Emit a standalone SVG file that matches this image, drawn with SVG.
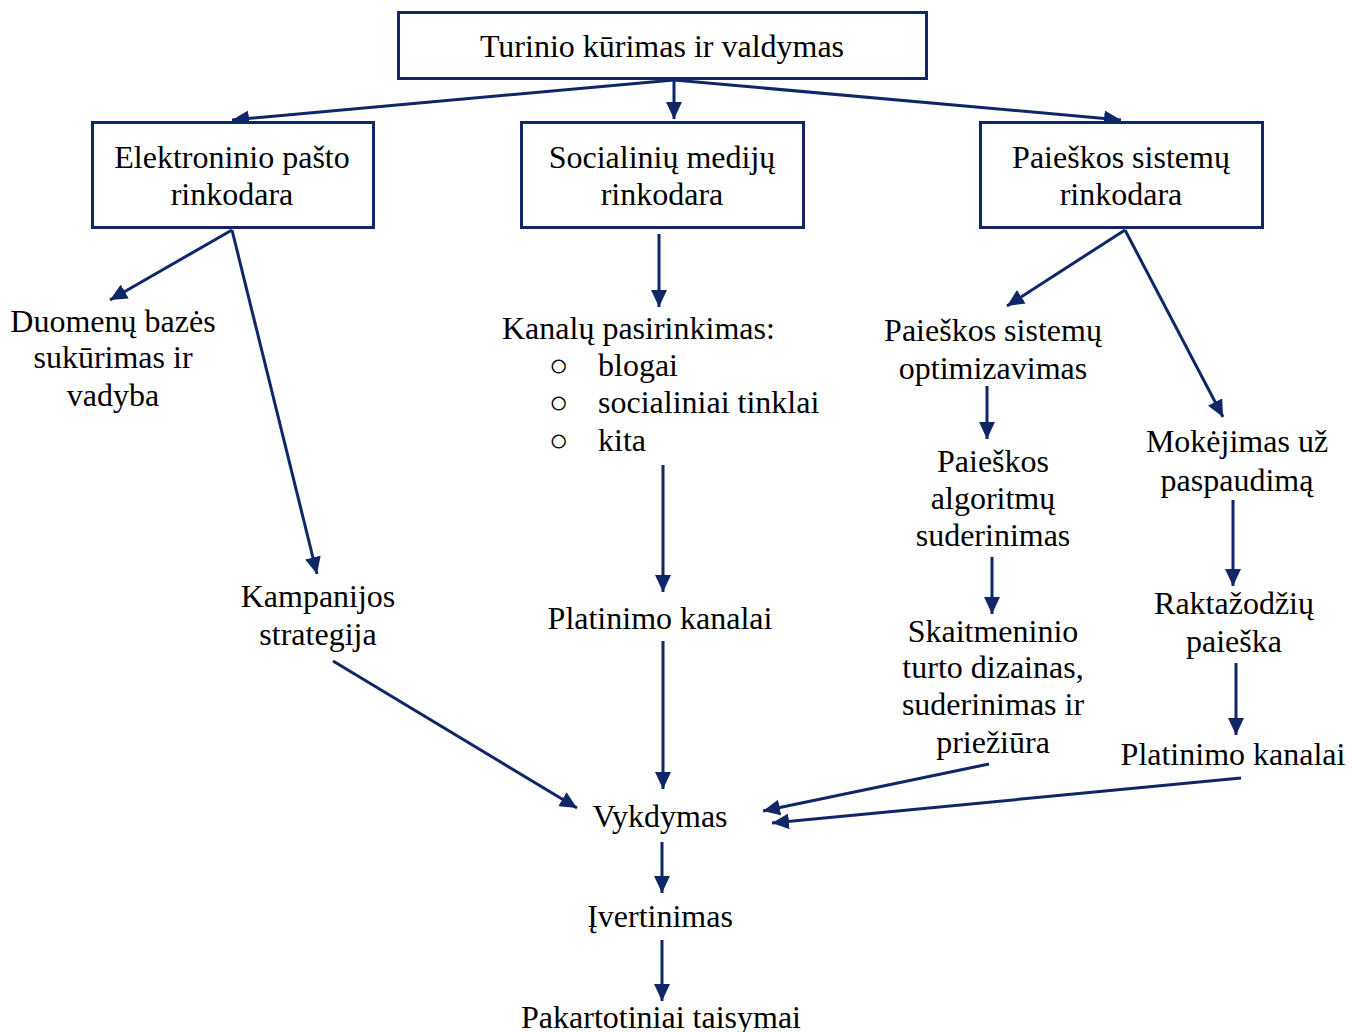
<svg xmlns="http://www.w3.org/2000/svg" width="1362" height="1032" viewBox="0 0 1362 1032">
  <defs>
    <marker id="arrow" markerUnits="userSpaceOnUse" markerWidth="18" markerHeight="16" refX="17" refY="8" orient="auto">
      <path d="M0,0 L17,8 L0,16 z" fill="#0f2767"/>
    </marker>
    <style>
      .box { fill: #ffffff; stroke: #0f2767; stroke-width: 3; }
      .t { font-family: "Liberation Serif", "Times New Roman", serif; font-size: 32px; fill: #000000; text-anchor: middle; }
      .l { text-anchor: start; }
      .c { stroke: #0f2767; stroke-width: 3; fill: none; marker-end: url(#arrow); }
    </style>
  </defs>
  <rect width="1362" height="1032" fill="#ffffff"/>

  <g id="connectors">
    <line class="c" x1="674" y1="80" x2="674" y2="119"/>
    <line class="c" x1="674" y1="80" x2="232" y2="120"/>
    <line class="c" x1="674" y1="80" x2="1121" y2="120"/>
    <line class="c" x1="232" y1="230" x2="110" y2="300"/>
    <line class="c" x1="232" y1="230" x2="317" y2="574"/>
    <line class="c" x1="659" y1="234" x2="659" y2="307"/>
    <line class="c" x1="663" y1="465" x2="663" y2="592"/>
    <line class="c" x1="663" y1="641" x2="663" y2="789"/>
    <line class="c" x1="333" y1="661" x2="577" y2="808"/>
    <line class="c" x1="1125" y1="230" x2="1007" y2="306"/>
    <line class="c" x1="1125" y1="230" x2="1223" y2="417"/>
    <line class="c" x1="987" y1="386" x2="987" y2="439"/>
    <line class="c" x1="992" y1="557" x2="992" y2="614"/>
    <line class="c" x1="1233" y1="500" x2="1233" y2="586"/>
    <line class="c" x1="1236" y1="663" x2="1236" y2="735"/>
    <line class="c" x1="989" y1="764" x2="763" y2="811"/>
    <line class="c" x1="1241" y1="778" x2="772" y2="823"/>
    <line class="c" x1="662" y1="842" x2="662" y2="893"/>
    <line class="c" x1="662" y1="940" x2="662" y2="1001"/>
  </g>

  <g id="top">
    <rect class="box" x="398.5" y="12.5" width="528" height="66"/>
    <text class="t" x="662" y="57">Turinio kūrimas ir valdymas</text>
  </g>
  <g id="email">
    <rect class="box" x="92.5" y="122.5" width="281" height="105"/>
    <text class="t" x="232" y="168">Elektroninio pašto</text>
    <text class="t" x="232" y="205">rinkodara</text>
  </g>
  <g id="social">
    <rect class="box" x="521.5" y="122.5" width="282" height="105"/>
    <text class="t" x="662" y="168">Socialinių medijų</text>
    <text class="t" x="662" y="205">rinkodara</text>
  </g>
  <g id="search">
    <rect class="box" x="980.5" y="122.5" width="282" height="105"/>
    <text class="t" x="1121" y="168">Paieškos sistemų</text>
    <text class="t" x="1121" y="205">rinkodara</text>
  </g>

  <g id="database">
    <text class="t" x="113" y="332">Duomenų bazės</text>
    <text class="t" x="113" y="368">sukūrimas ir</text>
    <text class="t" x="113" y="406">vadyba</text>
  </g>
  <g id="campaign">
    <text class="t" x="318" y="607">Kampanijos</text>
    <text class="t" x="318" y="645">strategija</text>
  </g>

  <g id="channels-choice">
    <text class="t l" x="502" y="339">Kanalų pasirinkimas:</text>
    <text class="t l" x="549" y="376">○</text>
    <text class="t l" x="598" y="376">blogai</text>
    <text class="t l" x="549" y="413">○</text>
    <text class="t l" x="598" y="413">socialiniai tinklai</text>
    <text class="t l" x="549" y="451">○</text>
    <text class="t l" x="598" y="451">kita</text>
  </g>
  <g id="social-distribution">
    <text class="t" x="660" y="629">Platinimo kanalai</text>
  </g>

  <g id="seo">
    <text class="t" x="993" y="341">Paieškos sistemų</text>
    <text class="t" x="993" y="379">optimizavimas</text>
  </g>
  <g id="algorithms">
    <text class="t" x="993" y="472">Paieškos</text>
    <text class="t" x="993" y="509">algoritmų</text>
    <text class="t" x="993" y="546">suderinimas</text>
  </g>
  <g id="assets">
    <text class="t" x="993" y="642">Skaitmeninio</text>
    <text class="t" x="993" y="678">turto dizainas,</text>
    <text class="t" x="993" y="715">suderinimas ir</text>
    <text class="t" x="993" y="753">priežiūra</text>
  </g>
  <g id="ppc">
    <text class="t" x="1237" y="452">Mokėjimas už</text>
    <text class="t" x="1237" y="491">paspaudimą</text>
  </g>
  <g id="keywords">
    <text class="t" x="1234" y="614">Raktažodžių</text>
    <text class="t" x="1234" y="652">paieška</text>
  </g>
  <g id="search-distribution">
    <text class="t" x="1233" y="765">Platinimo kanalai</text>
  </g>

  <g id="execution">
    <text class="t" x="660" y="827">Vykdymas</text>
  </g>
  <g id="evaluation">
    <text class="t" x="660" y="927">Įvertinimas</text>
  </g>
  <g id="corrections">
    <text class="t" x="661" y="1028">Pakartotiniai taisymai</text>
  </g>
</svg>
